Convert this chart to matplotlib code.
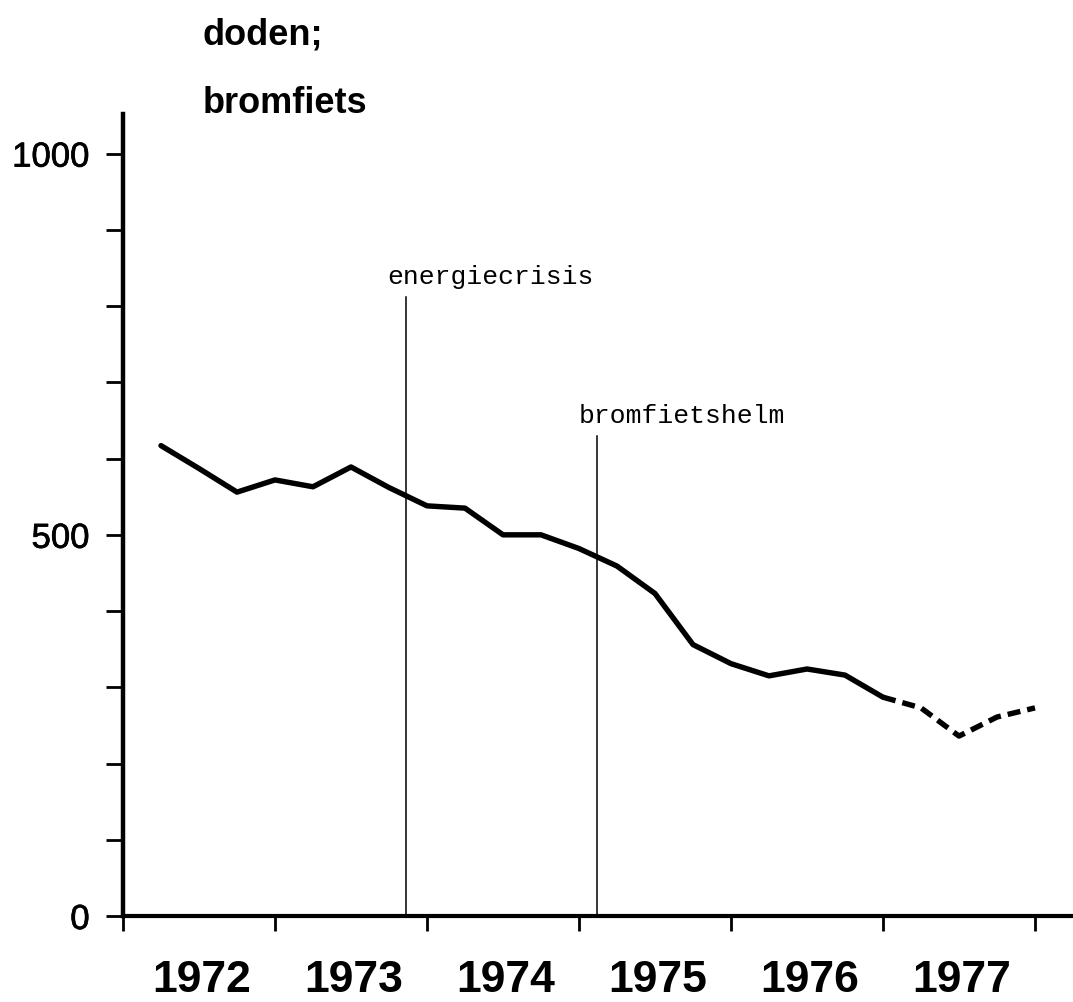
import matplotlib
matplotlib.use("Agg")
import matplotlib.pyplot as plt
import matplotlib.patheffects as pe
import numpy as np

# quarterly counts (doden; bromfiets), 1972 Q1 .. 1977 Q4
quarter_ends = [1972 + 0.25 * (i + 1) for i in range(24)]
deaths = [617, 587, 556, 572, 563, 589, 562, 538,
          535, 500, 500, 482, 459, 423, 356, 331,
          315, 324, 316, 287, 273, 236, 261, 273]
n_solid = 20  # last four quarters drawn dashed

years = [1972, 1973, 1974, 1975, 1976, 1977]
year_labels = ["1972", "1973", "1974", "1975", "1976", "1977"]

events = ["energiecrisis", "bromfietshelm"]
event_x = [1973.86, 1975.12]
event_top = [812, 630]

W, H = 1073, 1003
fig = plt.figure(figsize=(W / 100, H / 100), dpi=100)
ax = fig.add_axes([123 / W, 1 - 917 / H, 1 - 123 / W, (917 - 115) / H])

x = np.array(quarter_ends)
y = np.array(deaths)
ax.plot(x[:n_solid], y[:n_solid], color="black", lw=3.9,
        solid_joinstyle="round", solid_capstyle="round")
ax.plot(x[n_solid - 1:], y[n_solid - 1:], color="black", lw=3.9,
        dashes=(2.4, 1.3), dash_capstyle="butt")

mono = "Liberation Mono"
for name, ex, top in zip(events, event_x, event_top):
    ax.plot([ex, ex], [0, top], color="black", lw=1.1)
    ax.text(ex - 0.12, top + 18, name, family=mono, fontsize=19,
            ha="left", va="baseline")

ax.set_xlim(1972, 1978.25)
ax.set_ylim(0, 1052)

for side in ("top", "right"):
    ax.spines[side].set_visible(False)
ax.spines["left"].set_linewidth(3.2)
ax.spines["bottom"].set_linewidth(3.0)

ax.set_xticks(years + [1978])
ax.set_xticklabels([])
ax.set_xticks([yr + 0.52 for yr in years], minor=True)
ax.set_xticklabels(year_labels, minor=True, family="Liberation Sans",
                   fontweight="bold", fontsize=32)
ax.tick_params(axis="x", which="major", direction="out", length=11, width=2)
ax.tick_params(axis="x", which="minor", length=0, pad=31)

ax.set_yticks([0, 500, 1000])
ax.set_yticklabels(["0", "500", "1000"], family="Liberation Sans", fontsize=25)
for lab in ax.get_yticklabels():
    lab.set_path_effects([pe.withStroke(linewidth=0.5, foreground="black")])
ax.set_yticks(np.arange(100, 1000, 100), minor=True)
ax.tick_params(axis="y", which="both", direction="out", length=12, width=2, pad=12)

fig.text(203 / W, 1 - 45 / H, "doden;", family="Liberation Sans",
         fontweight="bold", fontsize=26, ha="left", va="baseline")
fig.text(203 / W, 1 - 113 / H, "bromfiets", family="Liberation Sans",
         fontweight="bold", fontsize=26, ha="left", va="baseline")

fig.savefig("out.png", dpi=100)
